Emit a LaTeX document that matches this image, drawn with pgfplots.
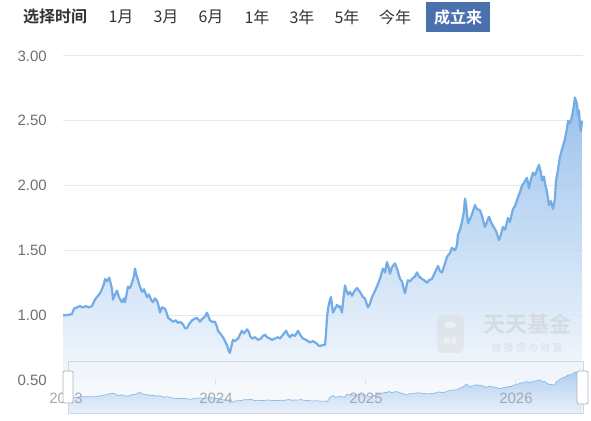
\documentclass[border=0pt]{standalone}
\usepackage{fontspec}
\setmainfont{Liberation Sans}
\newfontfamily\cjk{Noto Sans CJK SC}[BoldFont={Noto Sans CJK SC Bold}]
\usepackage{pgfplots}
\usepackage{pgfplotstable}
\pgfplotsset{compat=1.18}

\definecolor{linec}{HTML}{73ACE6}
\definecolor{areatop}{HTML}{8AB8EA}
\definecolor{areabot}{HTML}{F2F7FD}
\definecolor{gridc}{HTML}{E6E8EE}
\definecolor{tickc}{HTML}{6E7079}
\definecolor{axc}{HTML}{B8BDC6}
\definecolor{xlabc}{HTML}{A3A9B1}
\definecolor{btnc}{HTML}{4A70AE}
\definecolor{txtc}{HTML}{333333}
\definecolor{sliderb}{HTML}{D0D8E4}
\definecolor{sliderf}{HTML}{F1F5FB}
\definecolor{minil}{HTML}{8DBBE8}
\definecolor{minitop}{HTML}{A9CAEE}
\definecolor{minibot}{HTML}{E6EFFA}
\definecolor{handleb}{HTML}{ACB4C0}

% unit net value, x = fractional year
\pgfplotstableread{
x v
2022.980 1.00
2023.000 1.00
2023.027 1.005
2023.040 1.01
2023.053 1.05
2023.073 1.06
2023.093 1.07
2023.113 1.06
2023.133 1.07
2023.153 1.06
2023.173 1.07
2023.193 1.12
2023.213 1.15
2023.227 1.17
2023.240 1.20
2023.253 1.24
2023.260 1.28
2023.273 1.26
2023.287 1.29
2023.293 1.27
2023.307 1.20
2023.313 1.12
2023.327 1.16
2023.340 1.19
2023.353 1.14
2023.373 1.10
2023.387 1.13
2023.393 1.10
2023.407 1.18
2023.413 1.22
2023.427 1.21
2023.440 1.25
2023.453 1.30
2023.460 1.36
2023.467 1.32
2023.480 1.27
2023.493 1.22
2023.507 1.18
2023.520 1.20
2023.540 1.14
2023.553 1.16
2023.567 1.12
2023.580 1.10
2023.593 1.13
2023.607 1.11
2023.620 1.06
2023.627 1.02
2023.640 1.06
2023.660 1.05
2023.673 1.01
2023.680 0.98
2023.693 0.97
2023.713 0.95
2023.733 0.96
2023.747 0.94
2023.760 0.95
2023.780 0.93
2023.793 0.90
2023.807 0.90
2023.820 0.93
2023.840 0.96
2023.853 0.97
2023.873 0.98
2023.887 0.96
2023.893 0.95
2023.907 0.97
2023.927 0.99
2023.940 1.02
2023.953 0.98
2023.960 0.96
2023.973 0.95
2023.993 0.95
2024.007 0.91
2024.013 0.88
2024.027 0.86
2024.047 0.83
2024.060 0.80
2024.073 0.77
2024.087 0.72
2024.093 0.71
2024.107 0.78
2024.113 0.81
2024.127 0.80
2024.147 0.82
2024.160 0.85
2024.173 0.88
2024.187 0.86
2024.207 0.89
2024.220 0.87
2024.227 0.84
2024.240 0.82
2024.260 0.83
2024.280 0.81
2024.300 0.82
2024.313 0.84
2024.327 0.85
2024.340 0.83
2024.360 0.82
2024.373 0.81
2024.393 0.82
2024.413 0.83
2024.427 0.82
2024.447 0.85
2024.467 0.88
2024.480 0.85
2024.493 0.83
2024.507 0.85
2024.527 0.84
2024.547 0.88
2024.560 0.85
2024.580 0.82
2024.600 0.81
2024.613 0.80
2024.627 0.79
2024.647 0.80
2024.660 0.79
2024.673 0.78
2024.680 0.77
2024.693 0.76
2024.707 0.77
2024.727 0.77
2024.733 0.85
2024.740 0.98
2024.747 1.05
2024.760 1.12
2024.767 1.14
2024.773 1.08
2024.780 1.02
2024.793 1.05
2024.807 1.08
2024.820 1.06
2024.827 1.07
2024.840 1.02
2024.847 1.10
2024.860 1.23
2024.867 1.20
2024.880 1.16
2024.893 1.18
2024.907 1.15
2024.920 1.18
2024.940 1.21
2024.960 1.18
2024.980 1.14
2024.993 1.13
2025.007 1.08
2025.013 1.06
2025.027 1.09
2025.040 1.14
2025.053 1.17
2025.073 1.22
2025.093 1.28
2025.113 1.36
2025.127 1.33
2025.140 1.41
2025.153 1.36
2025.160 1.32
2025.173 1.37
2025.193 1.40
2025.207 1.36
2025.227 1.28
2025.240 1.26
2025.253 1.20
2025.260 1.17
2025.273 1.24
2025.280 1.27
2025.293 1.26
2025.307 1.28
2025.327 1.30
2025.340 1.33
2025.353 1.30
2025.373 1.28
2025.387 1.27
2025.407 1.25
2025.420 1.27
2025.440 1.28
2025.460 1.33
2025.480 1.38
2025.493 1.34
2025.507 1.33
2025.527 1.40
2025.540 1.45
2025.560 1.48
2025.573 1.52
2025.593 1.50
2025.607 1.54
2025.613 1.62
2025.627 1.66
2025.640 1.72
2025.653 1.80
2025.660 1.90
2025.667 1.86
2025.680 1.71
2025.693 1.74
2025.707 1.78
2025.727 1.85
2025.740 1.82
2025.760 1.81
2025.773 1.77
2025.793 1.68
2025.807 1.72
2025.820 1.76
2025.833 1.72
2025.847 1.69
2025.867 1.65
2025.887 1.58
2025.900 1.62
2025.913 1.68
2025.927 1.66
2025.947 1.75
2025.960 1.72
2025.980 1.82
2025.993 1.84
2026.013 1.91
2026.027 1.95
2026.040 2.00
2026.053 2.02
2026.073 2.06
2026.087 1.98
2026.100 2.05
2026.113 2.10
2026.127 2.08
2026.140 2.12
2026.153 2.16
2026.167 2.10
2026.173 2.04
2026.187 2.07
2026.193 2.02
2026.207 1.95
2026.220 1.85
2026.233 1.88
2026.247 1.82
2026.260 1.90
2026.267 2.04
2026.280 2.12
2026.293 2.22
2026.307 2.28
2026.327 2.36
2026.340 2.44
2026.347 2.50
2026.360 2.48
2026.373 2.53
2026.387 2.62
2026.393 2.68
2026.407 2.63
2026.413 2.55
2026.420 2.58
2026.427 2.46
2026.433 2.42
2026.440 2.50
}\navdata

\begin{document}
\begin{tikzpicture}[x=1pt,y=1pt]
\fill[white] (0,0) rectangle (591,420);
\path[use as bounding box] (0,0) rectangle (591,420);

% period selector
\begin{scope}[every node/.style={inner sep=0pt, text=txtc, font=\cjk\fontsize{16}{16}\selectfont}]
\node[font=\cjk\bfseries\fontsize{16}{16}\selectfont] at (55,403) {选择时间};
\node at (121,403) {1月};
\node at (166,403) {3月};
\node at (211,403) {6月};
\node at (257,403) {1年};
\node at (302,403) {3年};
\node at (347,403) {5年};
\node at (395,403) {今年};
\fill[btnc] (426,388) rectangle (490,418);
\node[text=white, font=\cjk\bfseries\fontsize{16}{16}\selectfont] at (458,403) {成立来};
\end{scope}

% main chart
\begin{axis}[
  at={(63pt,40pt)}, anchor=south west,
  scale only axis, width=520pt, height=324pt,
  xmin=2022.98, xmax=2026.447,
  ymin=0.5, ymax=3,
  ytick={0.5,1,1.5,2,2.5,3},
  xtick={2023,2024,2025,2026},
  xticklabels={},
  axis x line*=bottom, axis y line*=left,
  x axis line style={axc, line width=1pt},
  y axis line style={draw=none},
  ytick style={draw=none},
  xtick style={axc, line width=1pt},
  tick align=outside, major tick length=5pt,
  ymajorgrids, grid style={gridc, line width=1pt},
  yticklabel style={font=\fontsize{15}{15}\selectfont, text=tickc, inner sep=0pt, xshift=-11pt,
    /pgf/number format/.cd, fixed, fixed zerofill, precision=2, assume math mode=true},
]
\addplot[draw=none, top color=areatop, bottom color=areabot, fill opacity=0.85] table[x=x, y=v] {\navdata} \closedcycle;
\addplot[linec, line width=2.2pt, line join=round] table[x=x, y=v] {\navdata};
\end{axis}

% watermark
\begin{scope}[opacity=0.45]
\fill[black!14, rounded corners=6pt] (437,67) rectangle (464,105);
\fill[white] (450.5,95) ellipse (6 and 3.5);
\node[inner sep=0pt, text=white, font=\cjk\bfseries\fontsize{7}{7}\selectfont] at (450.5,79) {基金};
\node[inner sep=0pt, text=black!22, font=\cjk\bfseries\fontsize{22}{22}\selectfont] at (527,96) {天天基金};
\node[inner sep=0pt, text=black!22, font=\cjk\fontsize{10}{10}\selectfont] at (527,72) {链 接 您 与 财 富};
\end{scope}

% data zoom slider with overview series
\fill[sliderf, fill opacity=0.6] (68,7) rectangle (583,59);
\begin{axis}[
  at={(68pt,7pt)}, anchor=south west,
  scale only axis, width=515pt, height=52pt,
  xmin=2022.98, xmax=2026.447,
  ymin=0, ymax=3.4,
  hide axis,
]
\addplot[draw=none, top color=minitop, bottom color=minibot, fill opacity=0.85] table[x=x, y=v] {\navdata} \closedcycle;
\addplot[minil, line width=0.7pt] table[x=x, y=v] {\navdata};
\end{axis}
\draw[sliderb, line width=0.8pt] (68,7) rectangle (583,59);

% x tick labels of the main chart, drawn above the slider
\begin{axis}[
  at={(63pt,40pt)}, anchor=south west,
  scale only axis, width=520pt, height=324pt,
  xmin=2022.98, xmax=2026.447,
  ymin=0.5, ymax=3,
  axis x line*=bottom, hide y axis,
  x axis line style={draw=none},
  xtick style={draw=none},
  xtick={2023,2024,2025,2026},
  xticklabels={2023,2024,2025,2026},
  xticklabel style={font=\fontsize{15}{15}\selectfont, text=xlabc, inner sep=0pt, yshift=-12.5pt},
]
\end{axis}

\draw[handleb, fill=white, rounded corners=2pt, line width=0.8pt] (63,17) rectangle (73,49);
\draw[handleb, fill=white, rounded corners=2pt, line width=0.8pt] (577,16) rectangle (588,49);
\end{tikzpicture}
\end{document}
